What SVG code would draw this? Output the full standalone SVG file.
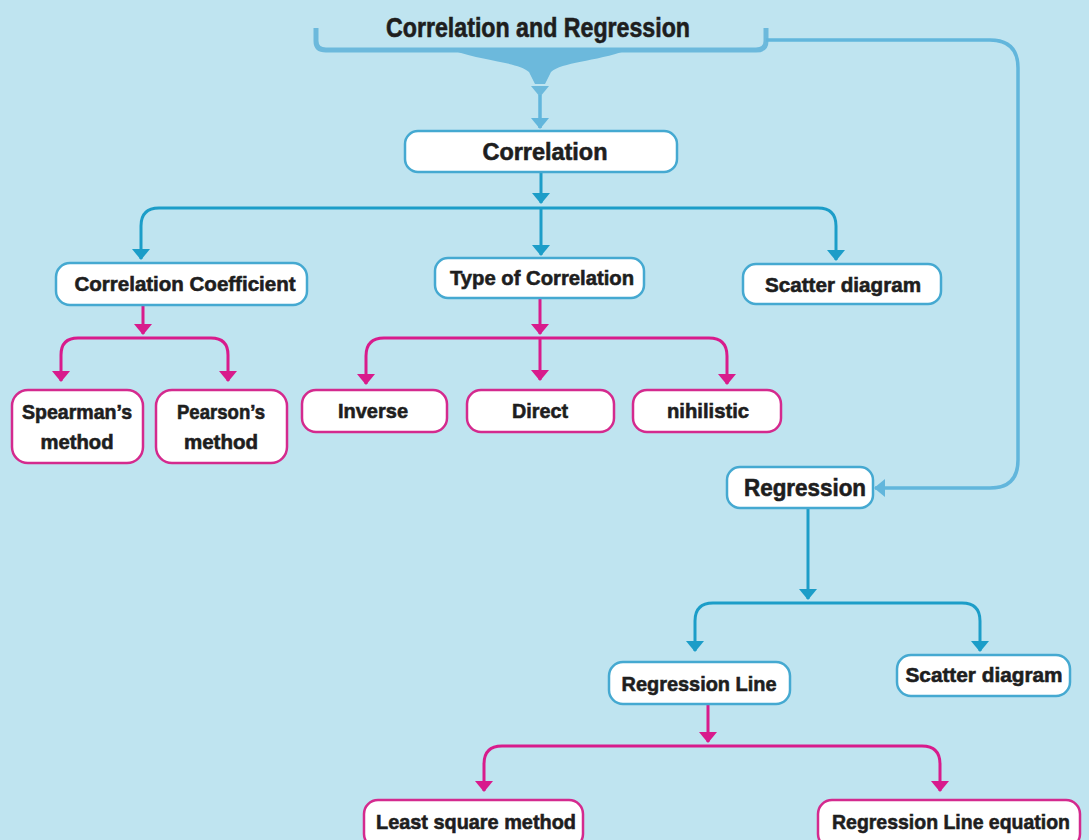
<svg xmlns="http://www.w3.org/2000/svg" width="1089" height="840" viewBox="0 0 1089 840">
<defs>
<style>
.bn{fill:#fff;stroke:#45a9d1;stroke-width:2.5}
.pn{fill:#fff;stroke:#d42a8e;stroke-width:2.5}
.t{font-family:"Liberation Sans",Arial,sans-serif;font-weight:bold;fill:#1e1e1e;stroke:#1e1e1e;stroke-width:0.6;text-anchor:middle}
.bc{fill:none;stroke:#1c9dc8;stroke-width:3}
.pc{fill:none;stroke:#d81b8c;stroke-width:3}
.lc{fill:none;stroke:#62b6dc;stroke-width:3.5}
</style>
<marker id="ab" viewBox="0 0 11 18" refX="10" refY="9" markerWidth="11" markerHeight="18" markerUnits="userSpaceOnUse" orient="auto">
<path d="M0,0 L11,9 L0,18 Z" fill="#1c9dc8"/>
</marker>
<marker id="ap" viewBox="0 0 11 18" refX="10" refY="9" markerWidth="11" markerHeight="18" markerUnits="userSpaceOnUse" orient="auto">
<path d="M0,0 L11,9 L0,18 Z" fill="#d81b8c"/>
</marker>
<marker id="al" viewBox="0 0 11 18" refX="10" refY="9" markerWidth="11" markerHeight="18" markerUnits="userSpaceOnUse" orient="auto">
<path d="M0,0 L11,9 L0,18 Z" fill="#62b6dc"/>
</marker>
</defs>
<rect width="1089" height="840" fill="#bfe4f0"/>

<g id="connectors">
<path d="M316,28 V41 Q316,50 326,50 H756 Q766,50 766,41 V28" fill="none" stroke="#6cb9dc" stroke-width="5"/>
<path d="M452,50 H628 C594,62 562,62 551,72 L545,84 H535 L529,72 C518,62 486,62 452,50 Z" fill="#6cb9dc"/>
<path d="M531,86 H549 L540,97 Z" fill="#6cb9dc"/>
<path d="M540,95 V128" class="lc" marker-end="url(#al)"/>
<path d="M766,40 H990 Q1018,40 1018,68 V460 Q1018,488 990,488 H875" class="lc" stroke-width="3" marker-end="url(#al)"/>

<path d="M541,172 V203" class="bc" marker-end="url(#ab)"/>
<path d="M541,208 H159 Q141,208 141,226 V259" class="bc" marker-end="url(#ab)"/>
<path d="M541,208 V255" class="bc" marker-end="url(#ab)"/>
<path d="M541,208 H818 Q836,208 836,226 V260" class="bc" marker-end="url(#ab)"/>

<path d="M143,305 V334" class="pc" marker-end="url(#ap)"/>
<path d="M143,338 H78 Q61,338 61,355 V381" class="pc" marker-end="url(#ap)"/>
<path d="M143,338 H211 Q228,338 228,355 V381" class="pc" marker-end="url(#ap)"/>

<path d="M540,298 V334" class="pc" marker-end="url(#ap)"/>
<path d="M540,338 H384 Q366,338 366,356 V384" class="pc" marker-end="url(#ap)"/>
<path d="M540,338 V380" class="pc" marker-end="url(#ap)"/>
<path d="M540,338 H709 Q727,338 727,356 V384" class="pc" marker-end="url(#ap)"/>

<path d="M808,508 V599" class="bc" marker-end="url(#ab)"/>
<path d="M808,603 H713 Q695,603 695,621 V651" class="bc" marker-end="url(#ab)"/>
<path d="M808,603 H962 Q980,603 980,621 V651" class="bc" marker-end="url(#ab)"/>

<path d="M708,705 V742" class="pc" marker-end="url(#ap)"/>
<path d="M708,746 H502 Q484,746 484,764 V791" class="pc" marker-end="url(#ap)"/>
<path d="M708,746 H922 Q940,746 940,764 V791" class="pc" marker-end="url(#ap)"/>
</g>

<g id="title">
<text class="t" x="538" y="37" font-size="27" textLength="304" lengthAdjust="spacingAndGlyphs">Correlation and Regression</text>
</g>

<g id="n-correlation">
<rect class="bn" x="405" y="131" width="272" height="41" rx="13"/>
<text class="t" x="545" y="160" font-size="24" textLength="125" lengthAdjust="spacingAndGlyphs">Correlation</text>
</g>

<g id="n-corr-coef">
<rect class="bn" x="56" y="263" width="251" height="42" rx="14"/>
<text class="t" x="185" y="291" font-size="21" textLength="221" lengthAdjust="spacingAndGlyphs">Correlation Coefficient</text>
</g>

<g id="n-type">
<rect class="bn" x="435" y="258" width="209" height="40" rx="13"/>
<text class="t" x="542" y="285" font-size="21" textLength="184" lengthAdjust="spacingAndGlyphs">Type of Correlation</text>
</g>

<g id="n-scatter1">
<rect class="bn" x="743" y="264" width="198" height="40" rx="13"/>
<text class="t" x="843" y="292" font-size="21" textLength="156" lengthAdjust="spacingAndGlyphs">Scatter diagram</text>
</g>

<g id="n-spearman">
<rect class="pn" x="12" y="390" width="131" height="73" rx="16"/>
<text class="t" x="77" y="419" font-size="20" textLength="110" lengthAdjust="spacingAndGlyphs">Spearman’s</text>
<text class="t" x="77" y="449" font-size="20" textLength="73" lengthAdjust="spacingAndGlyphs">method</text>
</g>

<g id="n-pearson">
<rect class="pn" x="156" y="390" width="131" height="73" rx="16"/>
<text class="t" x="221" y="419" font-size="20" textLength="88" lengthAdjust="spacingAndGlyphs">Pearson’s</text>
<text class="t" x="221" y="449" font-size="20" textLength="74" lengthAdjust="spacingAndGlyphs">method</text>
</g>

<g id="n-inverse">
<rect class="pn" x="302" y="390" width="145" height="42" rx="14"/>
<text class="t" x="373" y="418" font-size="21" textLength="70" lengthAdjust="spacingAndGlyphs">Inverse</text>
</g>

<g id="n-direct">
<rect class="pn" x="467" y="390" width="147" height="42" rx="14"/>
<text class="t" x="540" y="418" font-size="21" textLength="56" lengthAdjust="spacingAndGlyphs">Direct</text>
</g>

<g id="n-nihilistic">
<rect class="pn" x="633" y="390" width="148" height="42" rx="14"/>
<text class="t" x="708" y="418" font-size="21" textLength="82" lengthAdjust="spacingAndGlyphs">nihilistic</text>
</g>

<g id="n-regression">
<rect class="bn" x="727" y="467" width="146" height="41" rx="13"/>
<text class="t" x="805" y="496" font-size="24" textLength="122" lengthAdjust="spacingAndGlyphs">Regression</text>
</g>

<g id="n-regline">
<rect class="bn" x="609" y="662" width="181" height="42" rx="14"/>
<text class="t" x="699" y="691" font-size="21" textLength="155" lengthAdjust="spacingAndGlyphs">Regression Line</text>
</g>

<g id="n-scatter2">
<rect class="bn" x="897" y="655" width="173" height="41" rx="14"/>
<text class="t" x="984" y="682" font-size="21" textLength="157" lengthAdjust="spacingAndGlyphs">Scatter diagram</text>
</g>

<g id="n-least">
<rect class="pn" x="364" y="800" width="219" height="48" rx="14"/>
<text class="t" x="476" y="829" font-size="21" textLength="200" lengthAdjust="spacingAndGlyphs">Least square method</text>
</g>

<g id="n-regeq">
<rect class="pn" x="818" y="800" width="262" height="48" rx="14"/>
<text class="t" x="951" y="829" font-size="21" textLength="238" lengthAdjust="spacingAndGlyphs">Regression Line equation</text>
</g>
</svg>
